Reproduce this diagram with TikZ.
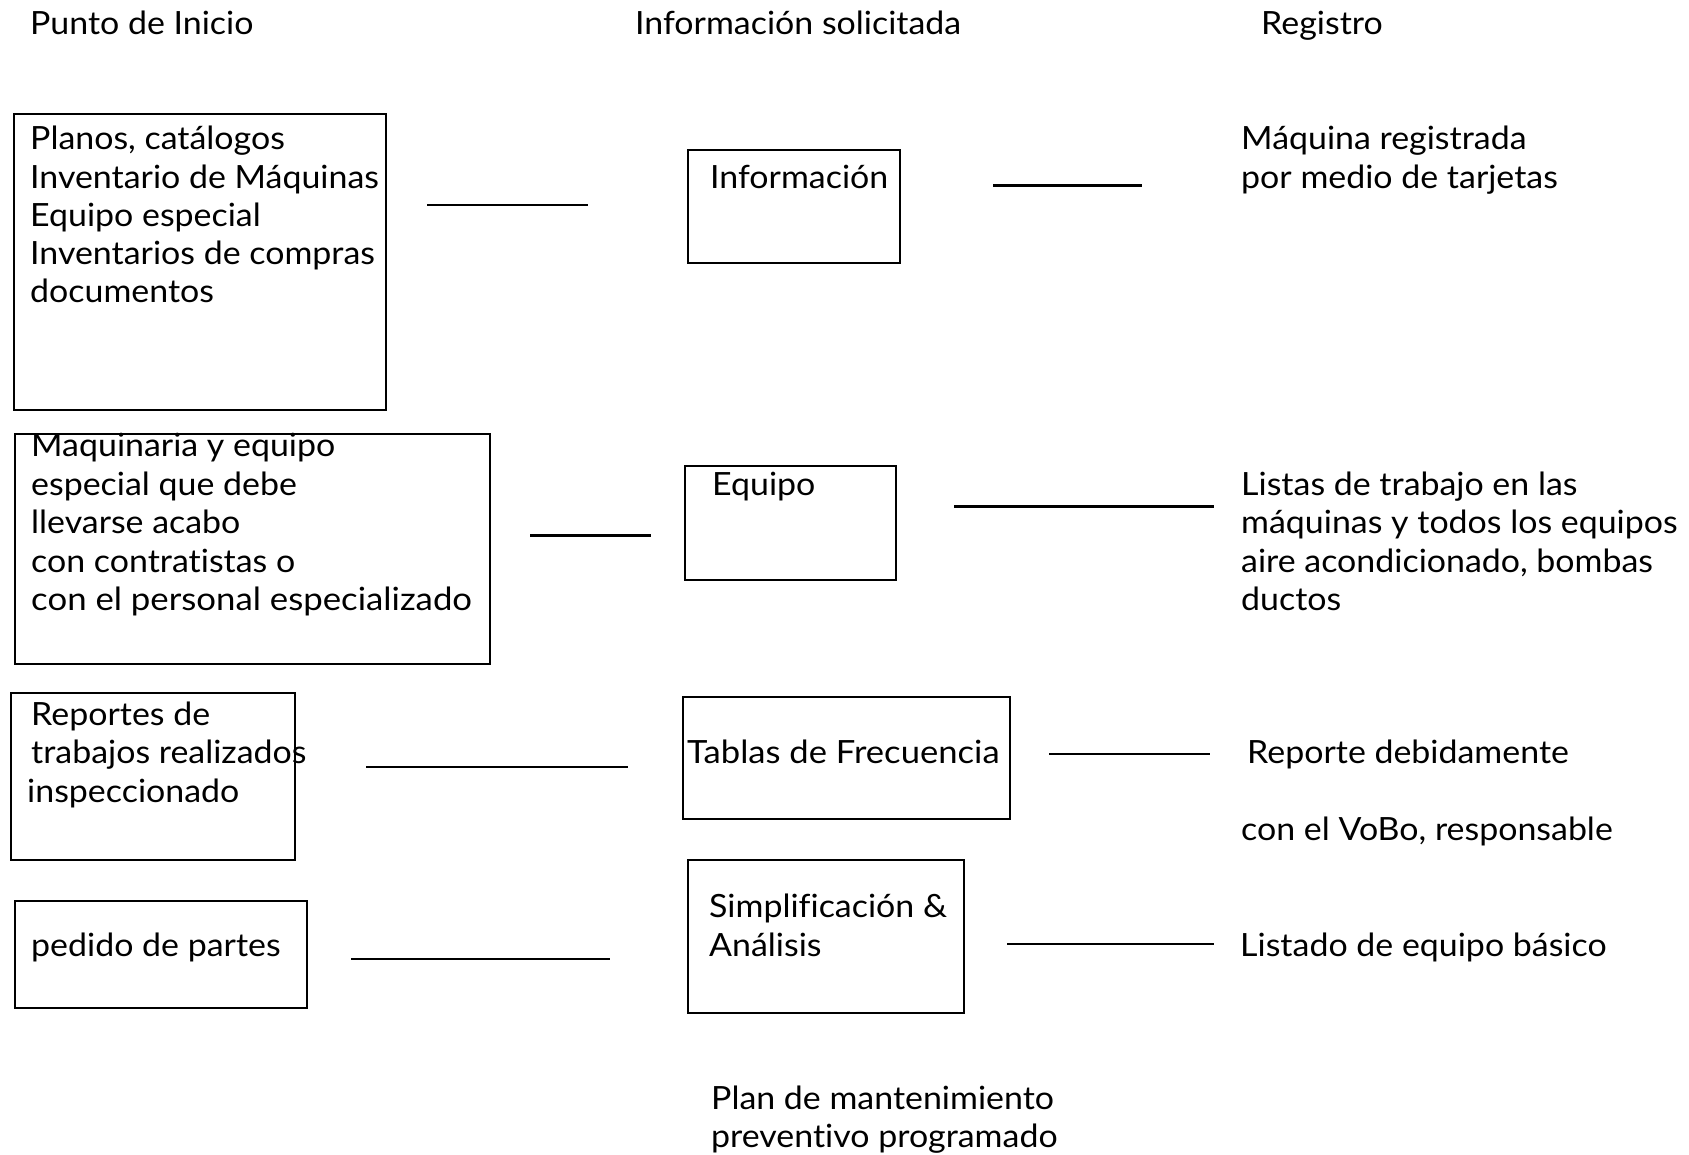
\documentclass[tikz,border=0pt]{standalone}
\usepackage{fontspec}
\setmainfont[Ligatures=NoCommon,FakeStretch=1.06]{Lato}
\begin{document}
\begin{tikzpicture}[x=1pt,y=-1pt,
  box/.style={draw, line width=2pt, inner sep=0pt, anchor=north west},
  lbl/.style={anchor=base west, inner sep=0pt, font=\fontsize{32}{38}\selectfont},
  link/.style={line width=2.2pt}]
\useasboundingbox (0,0) rectangle (1689,1155);
% headers
\node[lbl] (h1) at (30,35) {Punto de Inicio};
\node[lbl] (h2) at (635,35) {Información solicitada};
\node[lbl] (h3) at (1261,35) {Registro};
% row 1
\node[box, minimum width=372pt, minimum height=296pt] (b1) at (13,113) {};
\node[lbl] (t11) at (30,149.4) {Planos, catálogos};
\node[lbl] (t12) at (30,188.2) {Inventario de Máquinas};
\node[lbl] (t13) at (30,226.9) {Equipo especial};
\node[lbl] (t14) at (30,264.6) {Inventarios de compras};
\node[lbl] (t15) at (30,302.3) {documentos};
\coordinate (l1a) at (427,205); \coordinate (l1b) at (588,205);
\draw[link] (l1a) -- (l1b);
\node[box, minimum width=212pt, minimum height=113pt] (c1) at (687,149) {};
\node[lbl] (c1t) at (710,188.2) {Información};
\coordinate (r1a) at (993,185.5); \coordinate (r1b) at (1142,185.5);
\draw[link] (r1a) -- (r1b);
\node[lbl] (r11) at (1241,149.4) {Máquina registrada};
\node[lbl] (r12) at (1241,188.2) {por medio de tarjetas};
% row 2
\node[box, minimum width=475pt, minimum height=230pt] (b2) at (14,433) {};
\node[lbl] (t21) at (31,456.4) {Maquinaria y equipo};
\node[lbl] (t22) at (31,495.2) {especial que debe};
\node[lbl] (t23) at (31,533.9) {llevarse acabo};
\node[lbl] (t24) at (31,572.7) {con contratistas o};
\node[lbl] (t25) at (31,610.4) {\scalebox{1.025}[1]{con el personal especializado}};
\coordinate (l2a) at (530,535.5); \coordinate (l2b) at (651,535.5);
\draw[link] (l2a) -- (l2b);
\node[box, minimum width=211pt, minimum height=114pt] (c2) at (684,465) {};
\node[lbl] (c2t) at (712,495.2) {Equipo};
\coordinate (r2a) at (954,506.5); \coordinate (r2b) at (1214,506.5);
\draw[link] (r2a) -- (r2b);
\node[lbl] (r21) at (1241,495.2) {Listas de trabajo en las};
\node[lbl] (r22) at (1241,533.9) {máquinas y todos los equipos};
\node[lbl] (r23) at (1241,572.7) {aire acondicionado, bombas};
\node[lbl] (r24) at (1241,610.4) {ductos};
% row 3
\node[box, minimum width=284pt, minimum height=167pt] (b3) at (10,692) {};
\node[lbl] (t31) at (31,725.7) {Reportes de};
\node[lbl] (t32) at (31,763.4) {trabajos realizados};
\node[lbl] (t33) at (27,802.2) {inspeccionado};
\coordinate (l3a) at (366,767); \coordinate (l3b) at (628,767);
\draw[link] (l3a) -- (l3b);
\node[box, minimum width=327pt, minimum height=122pt] (c3) at (682,696) {};
\node[lbl] (c3t) at (687,763.4) {\scalebox{1.02}[1]{Tablas de Frecuencia}};
\coordinate (r3a) at (1049,754); \coordinate (r3b) at (1210,754);
\draw[link] (r3a) -- (r3b);
\node[lbl] (r31) at (1247,763.4) {Reporte debidamente};
\node[lbl] (r32) at (1241,840.9) {con el VoBo, responsable};
% row 4
\node[box, minimum width=292pt, minimum height=107pt] (b4) at (14,899.5) {};
\node[lbl] (t41) at (31,956.2) {pedido de partes};
\coordinate (l4a) at (351,959); \coordinate (l4b) at (610,959);
\draw[link] (l4a) -- (l4b);
\node[box, minimum width=276pt, minimum height=153pt] (c4) at (687,858.5) {};
\node[lbl] (c4t) at (709,917.4) {Simplificación \&};
\node[lbl] (c4u) at (709,956.2) {Análisis};
\coordinate (r4a) at (1007,944); \coordinate (r4b) at (1214,944);
\draw[link] (r4a) -- (r4b);
\node[lbl] (r41) at (1240,956.2) {Listado de equipo básico};
% bottom
\node[lbl] (p1) at (711,1109.2) {Plan de mantenimiento};
\node[lbl] (p2) at (711,1147.9) {preventivo programado};
\end{tikzpicture}
\end{document}
